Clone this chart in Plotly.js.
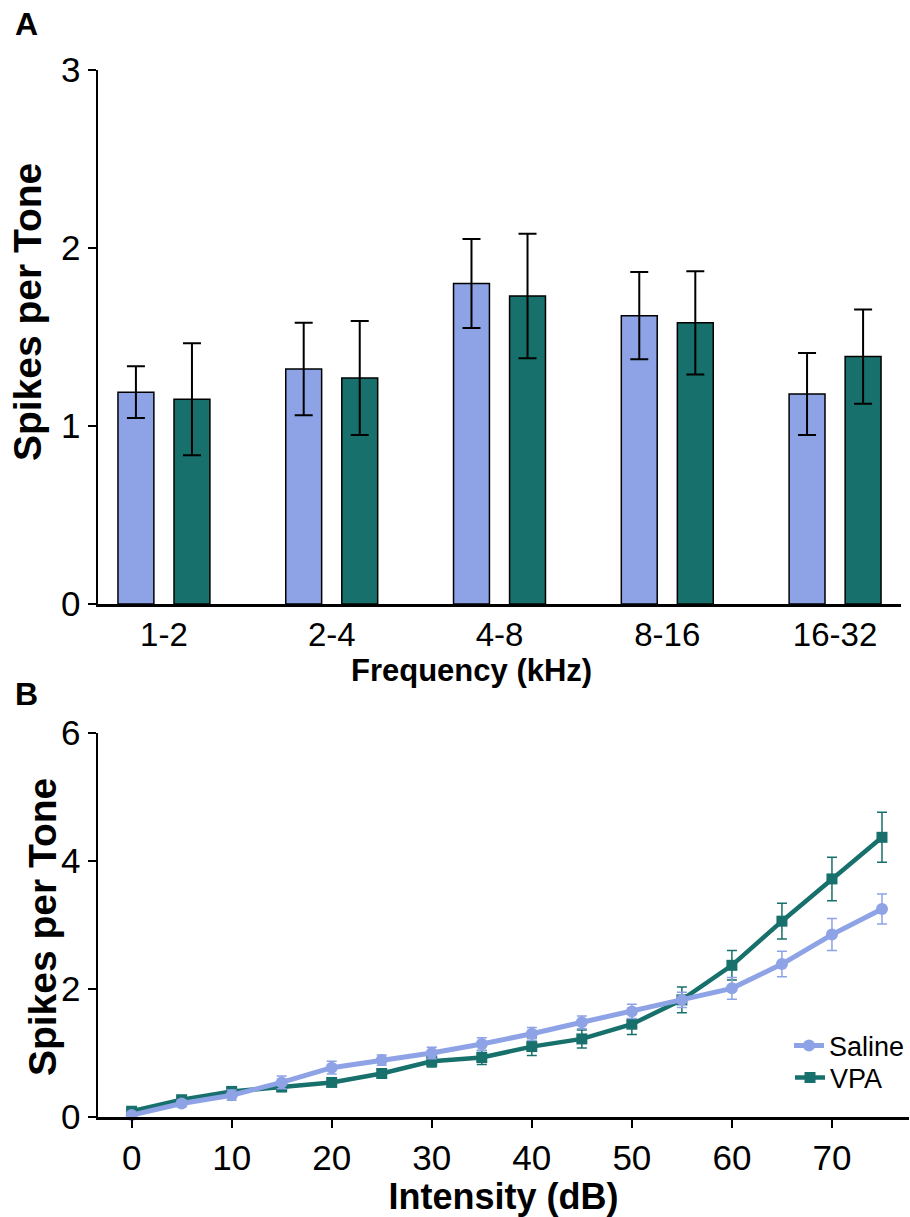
<!DOCTYPE html>
<html>
<head>
<meta charset="utf-8">
<script src="https://cdn.plot.ly/plotly-3.0.1.min.js"></script>
<style>html,body{margin:0;padding:0;background:#fff;}#chart{width:910px;height:1217px;}</style>
</head>
<body>
<div id="chart"></div>
<script>
// Panel A data
const categories = ['1-2', '2-4', '4-8', '8-16', '16-32'];
const salineBar = [1.19, 1.32, 1.80, 1.62, 1.18];
const salineBarErr = [0.145, 0.26, 0.25, 0.245, 0.23];
const vpaBar = [1.15, 1.27, 1.73, 1.58, 1.39];
const vpaBarErr = [0.315, 0.32, 0.35, 0.29, 0.265];

// Panel B data
const intensity = [0, 5, 10, 15, 20, 25, 30, 35, 40, 45, 50, 55, 60, 65, 70, 75];
const saline = [0.03, 0.21, 0.34, 0.54, 0.77, 0.89, 1.00, 1.14, 1.30, 1.48, 1.65, 1.83, 2.01, 2.39, 2.85, 3.25];
const salineErr = [0.03, 0.05, 0.08, 0.10, 0.10, 0.08, 0.09, 0.10, 0.10, 0.10, 0.11, 0.12, 0.17, 0.20, 0.25, 0.235];
const vpa = [0.09, 0.27, 0.40, 0.47, 0.54, 0.68, 0.87, 0.93, 1.10, 1.22, 1.45, 1.83, 2.37, 3.06, 3.72, 4.37];
const vpaErr = [0.03, 0.04, 0.05, 0.07, 0.06, 0.06, 0.09, 0.11, 0.14, 0.14, 0.16, 0.20, 0.23, 0.28, 0.34, 0.39];

const SAL = '#8EA2E6';
const VPA = '#17706B';
const FONT = 'Liberation Sans, Arial, Helvetica, sans-serif';

const W = 910, H = 1217, ML = 98, MR = 0;
const PW = W - ML - MR;
const px = v => (v - ML) / PW;
const py = v => 1 - v / H;

const traces = [
  {
    type: 'bar', x: categories, y: salineBar, name: 'Saline', showlegend: false,
    width: 0.214, offset: -0.274,
    marker: {color: SAL, line: {color: '#000', width: 1.5}},
    error_y: {type: 'data', array: salineBarErr, visible: true, color: '#000', thickness: 2, width: 9},
    xaxis: 'x', yaxis: 'y'
  },
  {
    type: 'bar', x: categories, y: vpaBar, name: 'VPA', showlegend: false,
    width: 0.214, offset: 0.06,
    marker: {color: VPA, line: {color: '#000', width: 1.5}},
    error_y: {type: 'data', array: vpaBarErr, visible: true, color: '#000', thickness: 2, width: 9},
    xaxis: 'x', yaxis: 'y'
  },
  {
    type: 'scatter', mode: 'lines+markers', x: intensity, y: vpa, name: 'VPA',
    legend: 'legend2',
    line: {color: VPA, width: 4.5},
    marker: {symbol: 'square', size: 11, color: VPA},
    error_y: {type: 'data', array: vpaErr, visible: true, color: VPA, thickness: 1.5, width: 5},
    xaxis: 'x2', yaxis: 'y2', cliponaxis: false
  },
  {
    type: 'scatter', mode: 'lines+markers', x: intensity, y: saline, name: 'Saline',
    legend: 'legend',
    line: {color: SAL, width: 5},
    marker: {symbol: 'circle', size: 12, color: SAL},
    error_y: {type: 'data', array: salineErr, visible: true, color: SAL, thickness: 1.5, width: 5},
    xaxis: 'x2', yaxis: 'y2', cliponaxis: false
  }
];

const axisCommon = {
  showline: true, linecolor: '#000', linewidth: 2.5,
  ticks: 'outside', ticklen: 8, tickwidth: 2, tickcolor: '#000',
  showgrid: false, zeroline: false,
  tickfont: {family: FONT, size: 35, color: '#000'}
};

const legendCommon = {
  xanchor: 'left', yanchor: 'middle',
  font: {family: FONT, size: 27, color: '#000'},
  bgcolor: 'rgba(0,0,0,0)', itemwidth: 30
};

const layout = {
  width: W, height: H,
  margin: {l: ML, r: MR, t: 0, b: 0},
  paper_bgcolor: '#fff', plot_bgcolor: '#fff',
  font: {family: FONT, color: '#000'},
  barmode: 'overlay',
  xaxis: Object.assign({}, axisCommon, {
    domain: [0, px(902)], anchor: 'y', type: 'category',
    range: [-0.393, 4.393], ticks: '', ticklen: 0,
    tickfont: {family: FONT, size: 33, color: '#000'}
  }),
  yaxis: Object.assign({}, axisCommon, {
    domain: [py(604), py(70)], anchor: 'x',
    range: [0, 3], tickvals: [0, 1, 2, 3]
  }),
  xaxis2: Object.assign({}, axisCommon, {
    domain: [0, 1], anchor: 'y2',
    range: [-3.36, 77.7], tickvals: [0, 10, 20, 30, 40, 50, 60, 70],
    title: {text: '<b>Intensity (dB)</b>', font: {family: FONT, size: 36, color: '#000'}, standoff: 10}
  }),
  yaxis2: Object.assign({}, axisCommon, {
    domain: [py(1117), py(733)], anchor: 'x2',
    range: [0, 6], tickvals: [0, 2, 4, 6]
  }),
  legend: Object.assign({}, legendCommon, {x: px(790), y: py(1046)}),
  legend2: Object.assign({}, legendCommon, {x: px(790), y: py(1078)}),
  annotations: [
    {text: '<b>A</b>', xref: 'paper', yref: 'paper', x: px(13), y: py(24), xanchor: 'left', yanchor: 'middle', showarrow: false, font: {family: FONT, size: 32, color: '#000'}},
    {text: '<b>B</b>', xref: 'paper', yref: 'paper', x: px(13), y: py(694), xanchor: 'left', yanchor: 'middle', showarrow: false, font: {family: FONT, size: 32, color: '#000'}},
    {text: '<b>Frequency (kHz)</b>', xref: 'paper', yref: 'paper', x: px(472), y: py(670), xanchor: 'center', yanchor: 'middle', showarrow: false, font: {family: FONT, size: 31, color: '#000'}},
    {text: '<b>Spikes per Tone</b>', xref: 'paper', yref: 'paper', x: px(27), y: py(312), xanchor: 'center', yanchor: 'middle', textangle: -90, showarrow: false, font: {family: FONT, size: 39, color: '#000'}},
    {text: '<b>Spikes per Tone</b>', xref: 'paper', yref: 'paper', x: px(42), y: py(927), xanchor: 'center', yanchor: 'middle', textangle: -90, showarrow: false, font: {family: FONT, size: 39, color: '#000'}}
  ]
};

Plotly.newPlot('chart', traces, layout, {staticPlot: true, displayModeBar: false});
</script>
</body>
</html>
